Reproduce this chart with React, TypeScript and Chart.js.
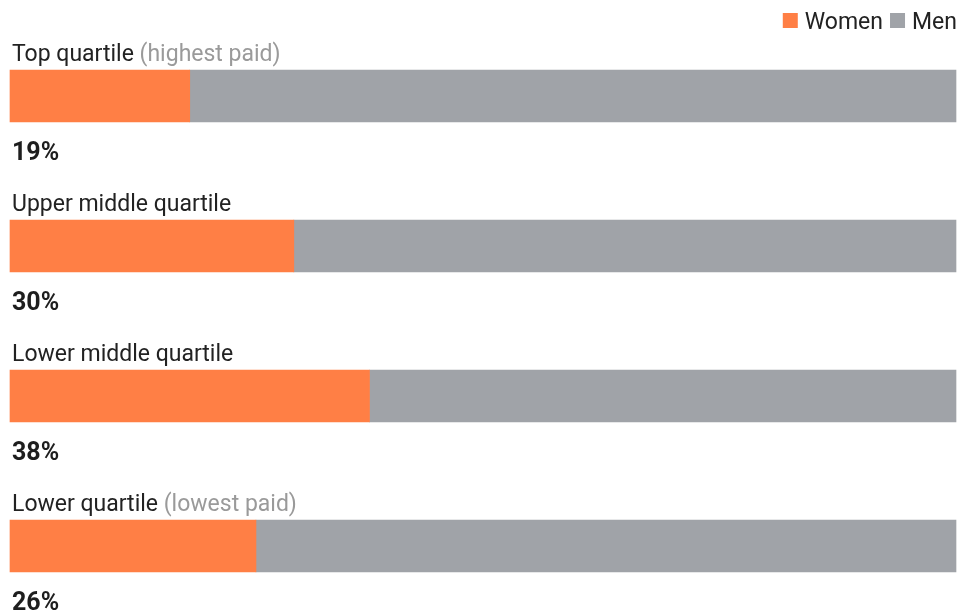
import React, { useEffect, useRef } from "react";
import { Chart, registerables } from "chart.js";

Chart.register(...registerables);

const categories = ["Top quartile", "Upper middle quartile", "Lower middle quartile", "Lower quartile"];
const subLabels = ["(highest paid)", "", "", "(lowest paid)"];
const women = [19, 30, 38, 26];
const men = women.map((w) => 100 - w);
const seriesNames = ["Women", "Men"];
const colors = ["#FF7F45", "#A0A3A8"];

const FONT = "Roboto, 'Noto Sans', sans-serif";
const BAR = 52;

const overlay = {
  id: "overlay",
  afterDatasetsDraw(chart: any) {
    const ctx = chart.ctx;
    const y = chart.scales.y;
    const left = chart.chartArea.left;
    ctx.save();
    ctx.textAlign = "left";
    ctx.textBaseline = "alphabetic";
    categories.forEach((c, i) => {
      const cy = y.getPixelForValue(i);
      ctx.font = `23px ${FONT}`;
      ctx.fillStyle = "#222222";
      ctx.fillText(c, left + 2, cy - BAR / 2 - 9);
      if (subLabels[i]) {
        const w = ctx.measureText(c + " ").width;
        ctx.fillStyle = "#9a9a9a";
        ctx.fillText(subLabels[i], left + 2 + w, cy - BAR / 2 - 9);
      }
      ctx.font = `bold 25px ${FONT}`;
      ctx.fillStyle = "#1e1e1e";
      ctx.fillText(`${women[i]}%`, left + 2, cy + BAR / 2 + 38);
    });
    // legend
    ctx.font = `23px ${FONT}`;
    let x = chart.width - 3;
    const base = 29;
    for (let k = seriesNames.length - 1; k >= 0; k--) {
      const tw = ctx.measureText(seriesNames[k]).width;
      x -= tw;
      ctx.fillStyle = "#222222";
      ctx.fillText(seriesNames[k], x, base);
      x -= 7 + 15;
      ctx.fillStyle = colors[k];
      ctx.fillRect(x, base - 16, 15, 15);
      x -= 7;
    }
    ctx.restore();
  },
};

export default function App() {
  const ref = useRef<HTMLCanvasElement>(null);
  useEffect(() => {
    document.body.style.margin = "0";
    const chart = new Chart(ref.current!, {
      type: "bar",
      data: {
        labels: categories,
        datasets: [
          { label: seriesNames[0], data: women, backgroundColor: colors[0], barThickness: BAR, clip: false },
          { label: seriesNames[1], data: men, backgroundColor: colors[1], barThickness: BAR, clip: false },
        ],
      },
      options: {
        indexAxis: "y",
        animation: false,
        responsive: false,
        maintainAspectRatio: false,
        layout: { padding: { left: 10, right: 4, top: 96, bottom: 64 } },
        plugins: { legend: { display: false }, tooltip: { enabled: false } },
        scales: {
          x: { stacked: true, min: 0, max: 100, display: false },
          y: { stacked: true, display: false, offset: false },
        },
      },
      plugins: [overlay],
    });
    return () => chart.destroy();
  }, []);
  return <canvas ref={ref} width={960} height={610} style={{ display: "block" }} />;
}
